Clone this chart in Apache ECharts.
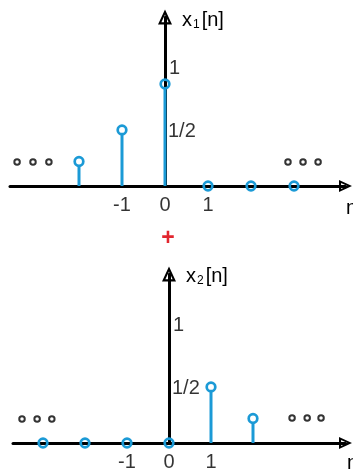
<!DOCTYPE html>
<html><head><meta charset="utf-8">
<script src="https://cdn.jsdelivr.net/npm/echarts@6/dist/echarts.min.js"></script>
<style>html,body{margin:0;padding:0;background:#fff;}#c{width:353px;height:473px;}</style>
</head><body><div id="c"></div>
<script>
// ---- data ----
const topN = [-2, -1, 0, 1, 2, 3];
const topValues = [0.24, 0.55, 1, 0, 0, 0];
const bottomN = [-3, -2, -1, 0, 1, 2];
const bottomValues = [0, 0, 0, 0, 0.55, 0.24];
const xTickValues = [-1, 0, 1];
const xTickLabels = ['-1', '0', '1'];
const yTickValues = [1, 0.5];
const yTickLabels = ['1', '1/2'];
const topDotsN = [-3.44, -3.07, -2.70, 2.86, 3.21, 3.56];
const topDotsLevel = [0.235, 0.235, 0.235, 0.235, 0.235, 0.235];
const bottomDotsN = [-3.5, -3.14, -2.79, 2.93, 3.29, 3.62];
const bottomDotsLevel = [0.235, 0.235, 0.235, 0.245, 0.245, 0.245];

// ---- styles ----
const BLUE = '#1B9AD6';
const INK = '#000';
const FONT = '"Liberation Sans", Arial, sans-serif';
const FS = 20;
const yLabelOffsets = [[4, -16], [3, -4]];
const ARROW_Y = 'path://M7,0 L14,15 L0,15 Z M7,5 L3.4,12.7 L10.6,12.7 Z';
const ARROW_X = 'path://M6,0 L12,13 L0,13 Z M6,4.6 L3.1,10.9 L8.9,10.9 Z';

function stemItem(params, api) {
  const n = api.value(0), v = api.value(1);
  const base = api.coord([n, 0]);
  const tip = api.coord([n, v]);
  const r = 4.3;
  const children = [];
  if (v > 0) {
    children.push({type: 'line', shape: {x1: base[0], y1: base[1], x2: tip[0], y2: tip[1] + r},
      style: {stroke: BLUE, lineWidth: 3}});
  }
  children.push({type: 'circle', shape: {cx: tip[0], cy: tip[1], r: r},
    style: {fill: 'none', stroke: BLUE, lineWidth: 2.7}});
  return {type: 'group', children: children};
}

function axisX(gi, min, max) {
  return {gridIndex: gi, type: 'value', min: min, max: max,
    axisLine: {show: true, onZero: true, symbol: ['none', ARROW_X], symbolSize: [12, 13],
      lineStyle: {color: INK, width: 3}},
    axisTick: {show: false}, axisLabel: {show: false}, splitLine: {show: false}};
}
function axisY(gi) {
  return {gridIndex: gi, type: 'value', min: 0, max: 1.657,
    axisLine: {show: true, onZero: true, symbol: ['none', ARROW_Y], symbolSize: [14, 15],
      lineStyle: {color: INK, width: 3}},
    axisTick: {show: false}, axisLabel: {show: false}, splitLine: {show: false}};
}
function stems(gi, ns, vals) {
  return {type: 'custom', xAxisIndex: gi, yAxisIndex: gi, renderItem: stemItem, clip: false, silent: true, z: 3,
    data: ns.map((n, i) => [n, vals[i]])};
}
function dots(gi, ns, lv) {
  return {type: 'scatter', xAxisIndex: gi, yAxisIndex: gi, silent: true, symbol: 'circle', symbolSize: 5.5,
    itemStyle: {color: '#fff', borderColor: INK, borderWidth: 2},
    data: ns.map((n, i) => [n, lv[i]])};
}
function xLabels(gi) {
  return {type: 'scatter', xAxisIndex: gi, yAxisIndex: gi, silent: true, symbolSize: 0,
    label: {show: true, position: 'inside', offset: [0, 19], color: INK, fontSize: FS, fontFamily: FONT,
      formatter: p => xTickLabels[p.dataIndex]},
    data: xTickValues.map(v => [v, 0])};
}
function yLabels(gi) {
  return {type: 'scatter', xAxisIndex: gi, yAxisIndex: gi, silent: true, symbolSize: 0,
    label: {show: true, position: 'inside', align: 'left', color: INK, fontSize: FS, fontFamily: FONT,
      formatter: p => yTickLabels[p.dataIndex]},
    data: yTickValues.map((v, i) => ({value: [0, v], label: {offset: yLabelOffsets[i]}}))};
}

const richName = {
  a: {fontSize: FS, fontFamily: FONT, color: INK, lineHeight: 22},
  s: {fontSize: 12, fontFamily: FONT, color: INK, lineHeight: 17, verticalAlign: 'bottom', padding: [0, 2, 0, 1]}
};

const chart = echarts.init(document.getElementById('c'), null, {renderer: 'canvas'});
chart.setOption({
  animation: false,
  backgroundColor: '#fff',
  grid: [
    {left: 10, top: 17, width: 335.5, height: 169},
    {left: 13, top: 274, width: 332.5, height: 169}
  ],
  xAxis: [axisX(0, -155 / 43, 180.5 / 43), axisX(1, -156 / 42, 176.5 / 42)],
  yAxis: [axisY(0), axisY(1)],
  series: [
    stems(0, topN, topValues), stems(1, bottomN, bottomValues),
    dots(0, topDotsN, topDotsLevel), dots(1, bottomDotsN, bottomDotsLevel),
    xLabels(0), xLabels(1), yLabels(0), yLabels(1)
  ],
  graphic: [
    {type: 'text', x: 182, y: 20, silent: true,
      style: {text: '{a|x}{s|1}{a|[n]}', rich: richName, align: 'left', verticalAlign: 'middle'}},
    {type: 'text', x: 186, y: 276, silent: true,
      style: {text: '{a|x}{s|2}{a|[n]}', rich: richName, align: 'left', verticalAlign: 'middle'}},
    {type: 'text', x: 168, y: 239, silent: true,
      style: {text: '+', fill: '#E2262E', font: 'bold 23px ' + FONT, align: 'center', verticalAlign: 'middle'}},
    {type: 'text', x: 346, y: 208, silent: true,
      style: {text: 'n', fill: INK, font: FS + 'px ' + FONT, align: 'left', verticalAlign: 'middle'}},
    {type: 'text', x: 347, y: 463, silent: true,
      style: {text: 'n', fill: INK, font: FS + 'px ' + FONT, align: 'left', verticalAlign: 'middle'}}
  ]
});
</script>
</body></html>
